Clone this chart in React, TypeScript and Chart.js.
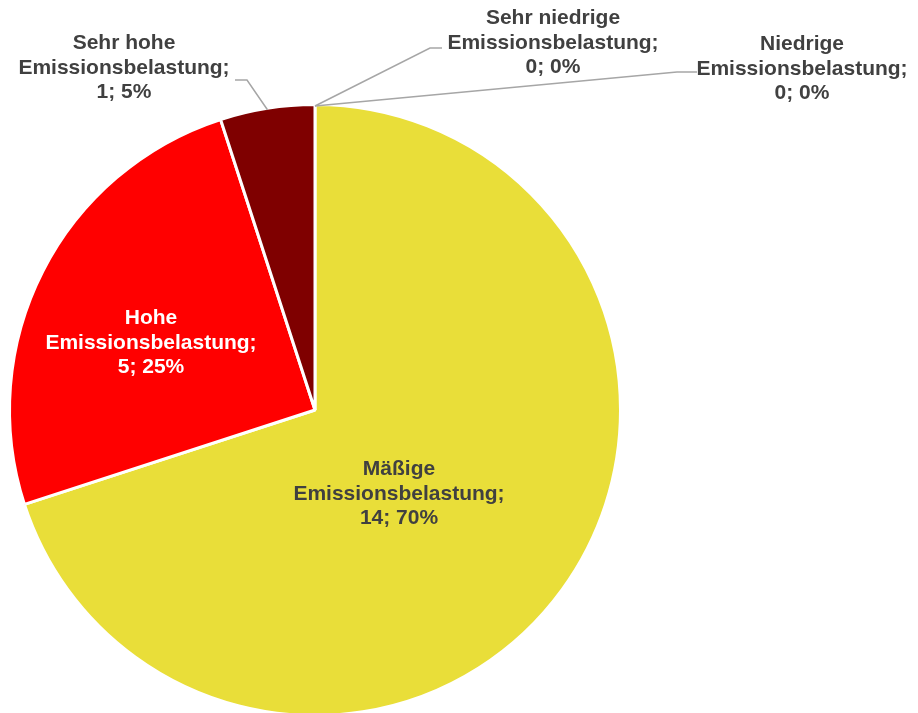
import React, { useEffect, useRef } from "react";
import { Chart, registerables } from "chart.js";

Chart.register(...registerables);

const categories = [
  "Sehr niedrige Emissionsbelastung",
  "Niedrige Emissionsbelastung",
  "Mäßige Emissionsbelastung",
  "Hohe Emissionsbelastung",
  "Sehr hohe Emissionsbelastung",
];
const labelLines = [
  ["Sehr niedrige", "Emissionsbelastung;"],
  ["Niedrige", "Emissionsbelastung;"],
  ["Mäßige", "Emissionsbelastung;"],
  ["Hohe", "Emissionsbelastung;"],
  ["Sehr hohe", "Emissionsbelastung;"],
];
const values = [0, 0, 14, 5, 1];
const colors = ["#5B9BD5", "#A9D18E", "#E9DE39", "#FF0000", "#7F0000"];
const labelColors = ["#404040", "#404040", "#404040", "#FFFFFF", "#404040"];

// label layout: center of middle text line, and optional leader (elbowX, elbowY, endX)
const labelLayout = [
  { x: 553, y: 43, leader: [430, 48, 442] },
  { x: 802, y: 69, leader: [677, 72, 697] },
  { x: 399, y: 494, leader: null },
  { x: 151, y: 343, leader: null },
  { x: 124, y: 68, leader: [247, 80, 235] },
];

const labelPlugin = {
  id: "customLabels",
  afterDraw(chart: any) {
    const ctx = chart.ctx;
    const meta = chart.getDatasetMeta(0);
    const total = values.reduce((a, b) => a + b, 0);
    ctx.save();
    meta.data.forEach((arc: any, i: number) => {
      const lay = labelLayout[i];
      if (lay.leader) {
        const mid = (arc.startAngle + arc.endAngle) / 2;
        const r = arc.outerRadius - 1.5;
        const sx = arc.x + Math.cos(mid) * r;
        const sy = arc.y + Math.sin(mid) * r;
        ctx.strokeStyle = "#A6A6A6";
        ctx.lineWidth = 1.5;
        ctx.beginPath();
        ctx.moveTo(sx, sy);
        ctx.lineTo(lay.leader[0], lay.leader[1]);
        ctx.lineTo(lay.leader[2], lay.leader[1]);
        ctx.stroke();
      }
      const pct = total ? Math.round((values[i] / total) * 100) : 0;
      const lines = [...labelLines[i], `${values[i]}; ${pct}%`];
      ctx.fillStyle = labelColors[i];
      ctx.font = "bold 21px 'Liberation Sans', Arial, sans-serif";
      ctx.textAlign = "center";
      ctx.textBaseline = "middle";
      const lh = 24.5;
      lines.forEach((t, k) => {
        ctx.fillText(t, lay.x, lay.y + (k - 1) * lh);
      });
    });
    ctx.restore();
  },
};

export default function App() {
  const ref = useRef<HTMLCanvasElement>(null);
  useEffect(() => {
    if (!ref.current) return;
    const chart = new Chart(ref.current, {
      type: "pie",
      data: {
        labels: categories,
        datasets: [
          {
            data: values,
            backgroundColor: colors,
            borderColor: "#FFFFFF",
            borderWidth: 3,
          },
        ],
      },
      options: {
        responsive: false,
        animation: false,
        devicePixelRatio: 1,
        radius: 305.5,
        layout: { padding: { top: 107, bottom: 0, left: 12, right: 300 } },
        plugins: {
          legend: { display: false },
          tooltip: { enabled: false },
        },
      },
      plugins: [labelPlugin],
    });
    return () => chart.destroy();
  }, []);
  return (
    <div style={{ position: "absolute", left: 0, top: 0, width: 918, height: 713, background: "#FFFFFF" }}>
      <canvas ref={ref} width={918} height={713} />
    </div>
  );
}
